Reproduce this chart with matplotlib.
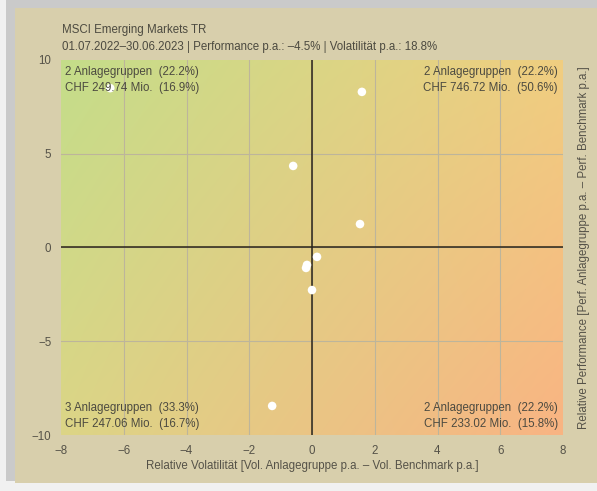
import numpy as np
import matplotlib
matplotlib.use("Agg")
import matplotlib.pyplot as plt
from matplotlib.patches import Rectangle

plt.rcParams['font.family'] = ['Liberation Sans', 'DejaVu Sans']

# data
rel_vol = [-6.43, 1.59, -0.60, 1.53, 0.16, -0.16, -0.19, 0.00, -1.27]
rel_perf = [8.5, 8.3, 4.35, 1.25, -0.5, -0.93, -1.09, -2.27, -8.45]

x_ticks = [-8, -6, -4, -2, 0, 2, 4, 6, 8]
y_ticks = [-10, -5, 0, 5, 10]

title_lines = ["MSCI Emerging Markets TR",
               "01.07.2022\u201330.06.2023 | Performance p.a.: \u20134.5% | Volatilit\u00e4t p.a.: 18.8%"]

quad_tl = ["2 Anlagegruppen  (22.2%)", "CHF 249.74 Mio.  (16.9%)"]
quad_tr = ["2 Anlagegruppen  (22.2%)", "CHF 746.72 Mio.  (50.6%)"]
quad_bl = ["3 Anlagegruppen  (33.3%)", "CHF 247.06 Mio.  (16.7%)"]
quad_br = ["2 Anlagegruppen  (22.2%)", "CHF 233.02 Mio.  (15.8%)"]

xlabel = "Relative Volatilit\u00e4t [Vol. Anlagegruppe p.a. \u2013 Vol. Benchmark p.a.]"
ylabel = "Relative Performance [Perf. Anlagegruppe p.a. \u2013 Perf. Benchmark p.a.]"

W, H = 597, 491
FS = 8.3
fig = plt.figure(figsize=(W / 100, H / 100), dpi=100)
fig.patch.set_facecolor('#f1f1f1')

# panel with shadow (top / left)
fig.patches.append(Rectangle((6 / W, 10 / H), 591 / W, 481 / H, transform=fig.transFigure,
                             facecolor='#a5a5a5', edgecolor='none', alpha=0.5, zorder=0))
fig.patches.append(Rectangle((15 / W, 8 / H), 582 / W, 475 / H, transform=fig.transFigure,
                             facecolor='#d8cfac', edgecolor='none', zorder=1))

ax = fig.add_axes([61 / W, (H - 435) / H, 502 / W, 375 / H])
ax.set_zorder(2)
ax.patch.set_alpha(0)

# gradient background
tl = np.array([196, 221, 138]) / 255
tr = np.array([240, 206, 128]) / 255
bl = np.array([220, 213, 134]) / 255
br = np.array([249, 180, 131]) / 255
n = 200
u = np.linspace(0, 1, n)
uu, vv = np.meshgrid(u, u)
img = ((1 - uu)[..., None] * (1 - vv)[..., None] * tl + uu[..., None] * (1 - vv)[..., None] * tr
       + (1 - uu)[..., None] * vv[..., None] * bl + uu[..., None] * vv[..., None] * br)
ax.imshow(img, extent=[-8, 8, -10, 10], origin='upper', aspect='auto', zorder=0, interpolation='bilinear')

ax.set_xlim(-8, 8)
ax.set_ylim(-10, 10)
for x in x_ticks[1:-1]:
    ax.axvline(x, color='#bdb59b', lw=0.8, zorder=1)
for y in y_ticks[1:-1]:
    ax.axhline(y, color='#bdb59b', lw=0.8, zorder=1)
ax.axvline(0, color='#2a2418', lw=1.1, zorder=2)
ax.axhline(0, color='#2a2418', lw=1.1, zorder=2)

ax.scatter(rel_vol, rel_perf, s=38, color='white', edgecolors='none', zorder=4)

for s in ax.spines.values():
    s.set_visible(False)
ax.set_xticks(x_ticks)
ax.set_yticks(y_ticks)
ax.tick_params(length=0, labelsize=FS, colors='#555248', pad=7)
ax.set_xticklabels([str(t).replace('-', '\u2212') for t in x_ticks])
ax.set_yticklabels([str(t).replace('-', '\u2212') for t in y_ticks])

ax.set_xlabel(xlabel, fontsize=FS, color='#555248', labelpad=2)
ax.yaxis.set_label_position('right')
ax.set_ylabel(ylabel, fontsize=FS, color='#555248', labelpad=11)

tkw = dict(transform=ax.transAxes, fontsize=FS, color='#4c4a40', linespacing=1.5, zorder=5)
ax.text(0.007, 0.985, "\n".join(quad_tl), ha='left', va='top', **tkw)
ax.text(0.99, 0.985, "\n".join(quad_tr), ha='right', va='top', **tkw)
ax.text(0.007, 0.012, "\n".join(quad_bl), ha='left', va='bottom', **tkw)
ax.text(0.99, 0.012, "\n".join(quad_br), ha='right', va='bottom', **tkw)

fig.text(62 / W, 1 - 30 / H, title_lines[0], fontsize=FS, color='#4c4a40', va='center')
fig.text(62 / W, 1 - 47 / H, title_lines[1], fontsize=FS, color='#4c4a40', va='center')

fig.savefig('out.png', dpi=100, facecolor=fig.get_facecolor())
